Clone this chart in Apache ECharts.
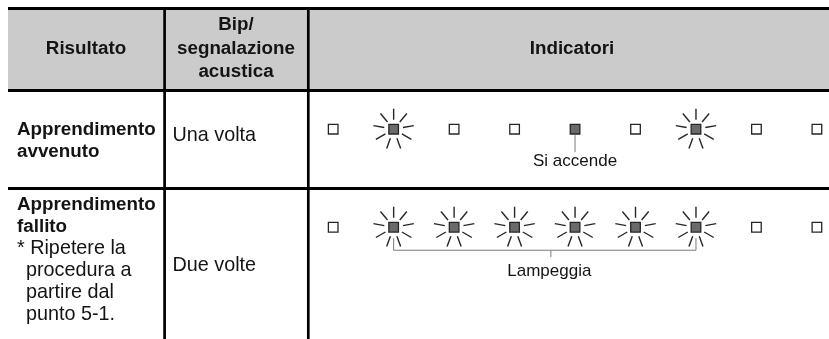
<!DOCTYPE html>
<html><head><meta charset="utf-8">
<script src="https://cdn.jsdelivr.net/npm/echarts@6/dist/echarts.min.js"></script>
<style>html,body{margin:0;padding:0;background:#fff}#c{width:829px;height:339px}</style>
</head><body><div id="c"></div>
<script>
// ---- data ----
const headerTitles = ['Risultato', 'Bip/\nsegnalazione\nacustica', 'Indicatori'];
const resultLabels = [['Apprendimento', 'avvenuto'], ['Apprendimento', 'fallito']];
const beepLabels = ['Una volta', 'Due volte'];
const noteLines = ['* Ripetere la', 'procedura a', 'partire dal', 'punto 5-1.'];
const indicatorSlots = [0, 1, 2, 3, 4, 5, 6, 7, 8];
const row1States = ['off', 'blink', 'off', 'off', 'on', 'off', 'blink', 'off', 'off'];
const row2States = ['off', 'blink', 'blink', 'blink', 'blink', 'blink', 'blink', 'off', 'off'];
const pointNoteLabels = ['Si accende'];
const pointNoteSlots = [4];
const pointNoteRows = [0];
const spanNoteLabels = ['Lampeggia'];
const spanNoteFrom = [1];
const spanNoteTo = [6];
const spanNoteTick = [3.6];
const spanNoteRows = [1];

// ---- build ----
const stateCode = { off: 0, on: 1, blink: 2 };
const indicatorData = [];
[row1States, row2States].forEach((row, r) => {
  row.forEach((s, i) => indicatorData.push([indicatorSlots[i], r, stateCode[s]]));
});
const pointNoteData = pointNoteLabels.map((t, k) => [pointNoteSlots[k], pointNoteRows[k], k]);
const spanNoteData = spanNoteLabels.map((t, k) => [spanNoteFrom[k], spanNoteTo[k], spanNoteRows[k], spanNoteTick[k], k]);

const FONT = '"Liberation Sans", Arial, Helvetica, sans-serif';
const INK = '#141414';
const LINE_GRAY = '#7a7a7a';

function renderIndicator(params, api) {
  const p = api.coord([api.value(0), api.value(1)]);
  const state = api.value(2);
  const children = [];
  if (state === 2) {
    for (let k = 0; k < 9; k++) {
      const a = k * 40 * Math.PI / 180;
      const sx = Math.sin(a), sy = -Math.cos(a);
      children.push({
        type: 'line',
        shape: { x1: p[0] + sx * 9.5, y1: p[1] + sy * 9.5, x2: p[0] + sx * 20.5, y2: p[1] + sy * 20.5 },
        style: { stroke: '#262626', lineWidth: 1.4 }
      });
    }
  }
  children.push({
    type: 'rect',
    shape: { x: p[0] - 4.8, y: p[1] - 4.8, width: 9.6, height: 9.6 },
    style: { fill: state ? '#6a6a6a' : '#ffffff', stroke: '#262626', lineWidth: 1.3 }
  });
  return { type: 'group', children };
}

function renderPointNote(params, api) {
  const p = api.coord([api.value(0), api.value(1)]);
  const label = pointNoteLabels[api.value(2)];
  return {
    type: 'group',
    children: [
      { type: 'line', shape: { x1: p[0], y1: p[1] + 5.5, x2: p[0], y2: p[1] + 23 },
        style: { stroke: LINE_GRAY, lineWidth: 1 } },
      { type: 'text', x: p[0], y: p[1] + 32,
        style: { text: label, font: '17px ' + FONT, fill: INK, align: 'center', verticalAlign: 'middle' } }
    ]
  };
}

function renderSpanNote(params, api) {
  const a = api.coord([api.value(0), api.value(2)]);
  const b = api.coord([api.value(1), api.value(2)]);
  const m = api.coord([api.value(3), api.value(2)]);
  const label = spanNoteLabels[api.value(4)];
  const yb = a[1] + 23;
  return {
    type: 'group',
    children: [
      { type: 'polyline', shape: { points: [[a[0], a[1] + 11], [a[0], yb], [b[0], yb], [b[0], b[1] + 11]] },
        style: { stroke: LINE_GRAY, lineWidth: 1, fill: null } },
      { type: 'line', shape: { x1: m[0], y1: yb, x2: m[0], y2: yb + 7 },
        style: { stroke: LINE_GRAY, lineWidth: 1 } },
      { type: 'text', x: m[0] - 1.5, y: yb + 21,
        style: { text: label, font: '17px ' + FONT, fill: INK, align: 'center', verticalAlign: 'middle' } }
    ]
  };
}

// ---- table frame (layout) ----
const graphics = [];
graphics.push({ type: 'rect', shape: { x: 8, y: 9, width: 821, height: 81 }, style: { fill: '#cbcbcb' }, z: 0 });
[8.5, 90.5, 188.5].forEach(y => graphics.push({ type: 'line', shape: { x1: 8, y1: y, x2: 829, y2: y }, style: { stroke: '#000', lineWidth: 3 }, z: 2 }));
[164.6, 308.3].forEach(x => graphics.push({ type: 'line', shape: { x1: x, y1: 7, x2: x, y2: 339 }, style: { stroke: '#000', lineWidth: 2.7 }, z: 2 }));

const headerCenters = [86, 236, 572];
headerTitles.forEach((t, i) => graphics.push({
  type: 'text', x: headerCenters[i], y: 48.5, z: 3,
  style: { text: t, font: 'bold 18.8px ' + FONT, fill: INK, align: 'center', verticalAlign: 'middle', lineHeight: 23.5 }
}));

const labelTops = [130, 205];
resultLabels.forEach((lines, r) => lines.forEach((t, j) => graphics.push({
  type: 'text', x: 17, y: labelTops[r] + j * 22, z: 3,
  style: { text: t, font: 'bold 18.8px ' + FONT, fill: INK, align: 'left', verticalAlign: 'middle' }
})));
noteLines.forEach((t, j) => graphics.push({
  type: 'text', x: j === 0 ? 17 : 26, y: 249 + j * 22, z: 3,
  style: { text: t, font: '19.8px ' + FONT, fill: INK, align: 'left', verticalAlign: 'middle' }
}));
const beepY = [135.5, 266];
beepLabels.forEach((t, r) => graphics.push({
  type: 'text', x: 172.5, y: beepY[r], z: 3,
  style: { text: t, font: '19.8px ' + FONT, fill: INK, align: 'left', verticalAlign: 'middle' }
}));

const chart = echarts.init(document.getElementById('c'), null, { renderer: 'canvas' });
chart.setOption({
  animation: false,
  backgroundColor: '#ffffff',
  grid: { left: 309, right: 0, top: 90, bottom: 0, containLabel: false },
  xAxis: { type: 'value', min: -0.4, max: 8.2, show: false },
  yAxis: { type: 'value', min: -0.4, max: 2.14, inverse: true, show: false },
  graphic: graphics,
  series: [
    { type: 'custom', renderItem: renderIndicator, data: indicatorData, clip: false, z: 5 },
    { type: 'custom', renderItem: renderPointNote, data: pointNoteData, clip: false, z: 5 },
    { type: 'custom', renderItem: renderSpanNote, data: spanNoteData, clip: false, z: 4 }
  ]
});
</script>
</body></html>
